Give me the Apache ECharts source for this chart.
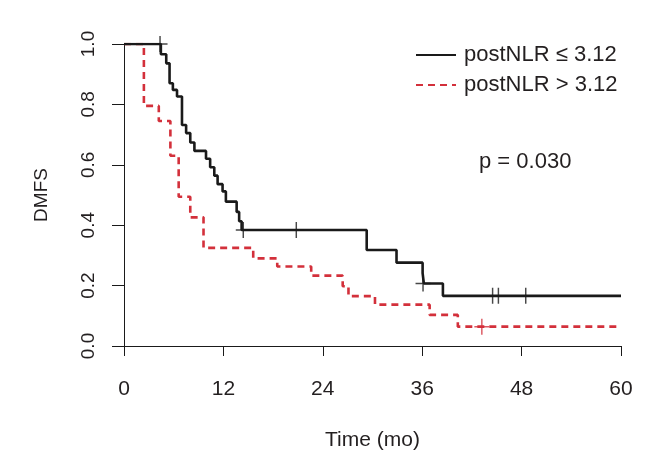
<!DOCTYPE html>
<html><head><meta charset="utf-8">
<script src="https://cdn.jsdelivr.net/npm/echarts@6/dist/echarts.min.js"></script>
<style>html,body{margin:0;padding:0;background:#fff}#c{width:645px;height:459px}</style>
</head><body><div id="c"></div>
<script>
// ---- data ----
const seriesNames = ['postNLR \u2264 3.12', 'postNLR > 3.12'];
const lowTimes = [0, 4.45, 5.1, 5.5, 5.9, 6.4, 7.0, 7.5, 8.0, 8.5, 9.9, 10.4, 10.9, 11.3, 11.9, 12.3, 13.6, 13.9, 14.2, 29.3, 32.9, 36.05, 36.2, 38.5, 60];
const lowSurv  = [1.0, 0.966, 0.936, 0.870, 0.848, 0.826, 0.732, 0.705, 0.674, 0.646, 0.620, 0.592, 0.564, 0.536, 0.512, 0.478, 0.444, 0.413, 0.384, 0.318, 0.276, 0.241, 0.207, 0.166, 0.166];
const lowCensorTimes = [4.35, 14.4, 20.8, 36.1, 44.5, 45.2, 48.5];
const lowCensorSurv  = [1.0, 0.384, 0.384, 0.207, 0.166, 0.166, 0.166];
const highTimes = [0, 2.4, 4.2, 5.6, 6.6, 8.0, 9.6, 15.6, 18.5, 22.6, 26.4, 27.1, 30.3, 36.9, 40.3, 60];
const highSurv  = [1.0, 0.795, 0.745, 0.630, 0.494, 0.426, 0.325, 0.290, 0.263, 0.233, 0.198, 0.165, 0.137, 0.103, 0.064, 0.064];
const highCensorTimes = [43.2];
const highCensorSurv  = [0.064];
const xTickStep = 12;
const yTickStep = 0.2;
const pValueText = 'p = 0.030';
const xName = 'Time (mo)';
const yName = 'DMFS';

// ---- chart ----
const FONT = 'Liberation Sans, Arial, Helvetica, sans-serif';
const TXT = '#231f20';
const BLACK = '#1a1a1a';
const RED = '#d3303b';
const plus = 'path://M5,0L5,10M0,5L10,5';
const zip = (a, b) => a.map((v, i) => [v, b[i]]);

const chart = echarts.init(document.getElementById('c'), null, {renderer: 'canvas'});
chart.setOption({
  animation: false,
  backgroundColor: '#fff',
  textStyle: {fontFamily: FONT, color: TXT},
  grid: {left: 124, right: 24, top: 44, bottom: 113, containLabel: false},
  xAxis: {
    type: 'value', min: 0, max: 60, interval: xTickStep,
    name: xName, nameLocation: 'middle', nameGap: 84,
    nameTextStyle: {fontSize: 21, color: TXT, fontFamily: FONT},
    axisLine: {show: true, onZero: false, lineStyle: {color: BLACK, width: 1}},
    axisTick: {show: true, length: 10, lineStyle: {color: BLACK, width: 1}},
    axisLabel: {fontSize: 21, color: TXT, margin: 33, fontFamily: FONT},
    splitLine: {show: false}
  },
  yAxis: {
    type: 'value', min: 0, max: 1, interval: yTickStep,
    name: yName, nameLocation: 'middle', nameGap: 73, nameRotate: 90,
    nameTextStyle: {fontSize: 19, color: TXT, fontFamily: FONT},
    axisLine: {show: true, onZero: false, lineStyle: {color: BLACK, width: 1}},
    axisTick: {show: true, length: 12, lineStyle: {color: BLACK, width: 1}},
    axisLabel: {fontSize: 19, color: TXT, margin: 26, rotate: 90, fontFamily: FONT,
      formatter: v => v.toFixed(1)},
    splitLine: {show: false}
  },
  legend: {
    orient: 'vertical', left: 415, top: 44, padding: 0,
    data: seriesNames,
    itemWidth: 40, itemHeight: 22, itemGap: 8,
    itemStyle: {opacity: 0},
    textStyle: {fontSize: 22, color: TXT, fontFamily: FONT, padding: [0, 0, 0, 3]},
    selectedMode: false
  },
  graphic: [{
    type: 'text', left: 479, top: 151,
    style: {text: pValueText, fontSize: 22, fill: TXT, fontFamily: FONT}
  }],
  series: [
    {name: seriesNames[0], type: 'line', step: 'end', symbol: 'none',
     data: zip(lowTimes, lowSurv), lineStyle: {color: BLACK, width: 2.6}, itemStyle: {color: BLACK}, z: 3},
    {name: seriesNames[1], type: 'line', step: 'end', symbol: 'none',
     data: zip(highTimes, highSurv), lineStyle: {color: RED, width: 2.6, type: [7, 5]}, itemStyle: {color: RED}, z: 2},
    {name: 'c1', type: 'scatter', symbol: plus, symbolSize: [15, 16], silent: true,
     data: zip(lowCensorTimes, lowCensorSurv),
     itemStyle: {color: 'rgba(0,0,0,0)', borderColor: BLACK, borderWidth: 1.5}, z: 4},
    {name: 'c2', type: 'scatter', symbol: plus, symbolSize: [15, 16], silent: true,
     data: zip(highCensorTimes, highCensorSurv),
     itemStyle: {color: 'rgba(0,0,0,0)', borderColor: RED, borderWidth: 1.5}, z: 4}
  ]
});
</script></body></html>
